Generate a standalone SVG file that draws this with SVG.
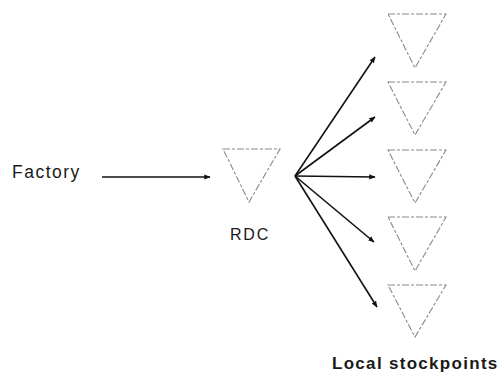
<svg xmlns="http://www.w3.org/2000/svg" width="500" height="372" viewBox="0 0 500 372">
<style>
.tri{fill:none;stroke:#8a8a8a;stroke-width:1.1;stroke-dasharray:7 2 3 2}
.lbl{font-family:"Liberation Sans",Arial,sans-serif;fill:#1a1a1a}
.con{stroke:#111;stroke-width:1.6;fill:none}
</style>
<defs>
<marker id="ah" viewBox="0 0 10 10" refX="9" refY="5" markerWidth="4" markerHeight="4" orient="auto" markerUnits="strokeWidth">
<path d="M0,1 L10,5 L0,9 Z" fill="#111"/>
</marker>
</defs>
<rect width="500" height="372" fill="#fff"/>
<g id="factory"><text class="lbl" x="12" y="178" font-size="17.5" letter-spacing="1.5">Factory</text></g>
<g id="rdc">
<polygon class="tri" points="223,149 280,149 249,202"/>
<text class="lbl" x="230" y="240" font-size="16" letter-spacing="1.8">RDC</text>
</g>
<g id="local1"><polygon class="tri" points="388,14 446,14 415,68"/></g>
<g id="local2"><polygon class="tri" points="388,82 446,82 415,135"/></g>
<g id="local3"><polygon class="tri" points="388,150 446,150 415,203"/></g>
<g id="local4"><polygon class="tri" points="388,217 446,217 415,271"/></g>
<g id="local5"><polygon class="tri" points="388,285 446,285 415,337"/></g>
<g id="stock-label"><text class="lbl" x="332" y="369" font-size="17" font-weight="bold" letter-spacing="1.3">Local stockpoints</text></g>
<g id="connectors">
<line class="con" x1="102" y1="177" x2="210" y2="177" marker-end="url(#ah)"/>
<line class="con" x1="295" y1="176" x2="375" y2="57" marker-end="url(#ah)"/>
<line class="con" x1="295" y1="176" x2="375" y2="117" marker-end="url(#ah)"/>
<line class="con" x1="295" y1="176" x2="375" y2="177" marker-end="url(#ah)"/>
<line class="con" x1="295" y1="176" x2="374" y2="242" marker-end="url(#ah)"/>
<line class="con" x1="295" y1="176" x2="377" y2="307" marker-end="url(#ah)"/>
</g>
</svg>
